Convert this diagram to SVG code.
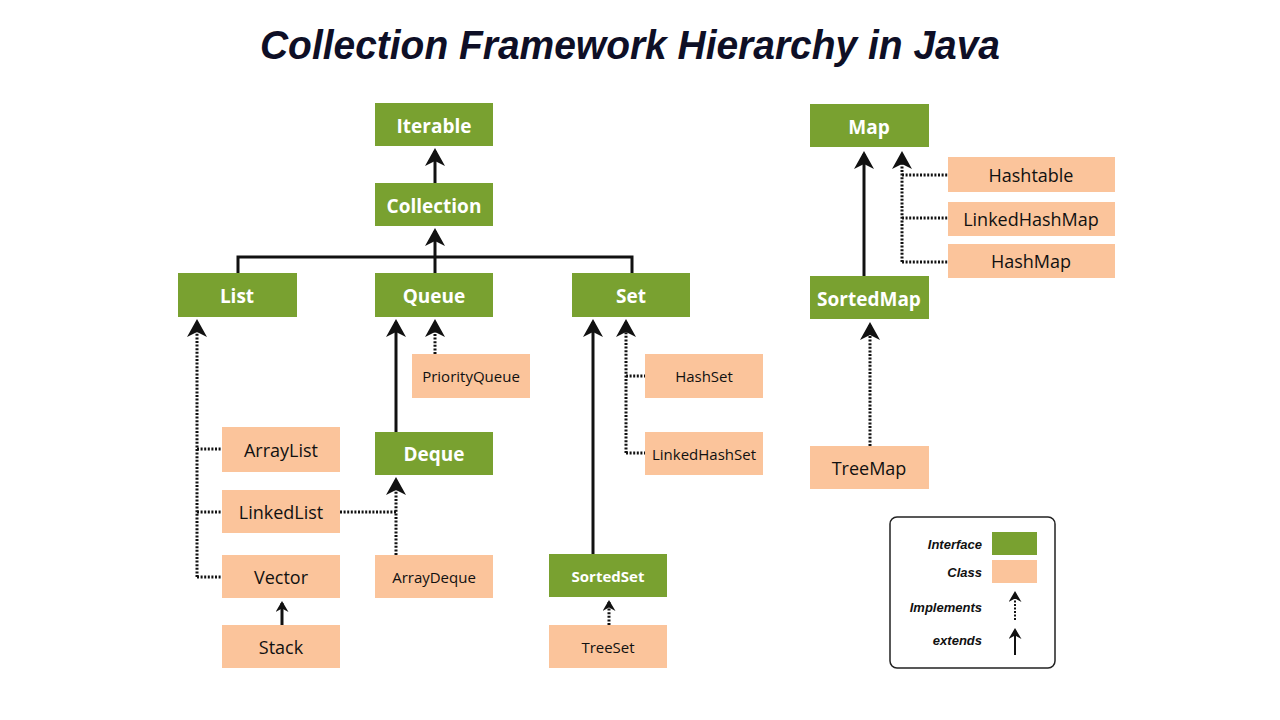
<svg xmlns="http://www.w3.org/2000/svg" width="1280" height="720" viewBox="0 0 1280 720">
<defs>
<style>
.i{fill:#79a130}
.c{fill:#fbc49b}
.ti{font-family:"Open Sans","Liberation Sans",sans-serif;font-weight:bold;font-size:19px;fill:#fff;text-anchor:middle}
.tis{font-size:15px}
.tc{font-family:"Open Sans","Liberation Sans",sans-serif;font-size:18px;fill:#111;text-anchor:middle}
.tcs{font-size:15px}
.s{stroke:#111;stroke-width:3;fill:none}
.d{stroke:#111;stroke-width:3;fill:none;stroke-dasharray:2 1.6}
.lg{font-family:"Liberation Sans",sans-serif;font-weight:bold;font-style:italic;font-size:13px;fill:#111;text-anchor:end}
</style>
<marker id="ah" markerUnits="userSpaceOnUse" markerWidth="18" markerHeight="20" viewBox="0 0 18 20" refX="15" refY="10" orient="auto">
<path d="M0,0 L18,10 L0,20 L5,10 z" fill="#111"/>
</marker>
<marker id="ahs" markerUnits="userSpaceOnUse" markerWidth="11" markerHeight="13" viewBox="0 0 11 13" refX="9" refY="6.5" orient="auto">
<path d="M0,0 L11,6.5 L0,13 L3.5,6.5 z" fill="#111"/>
</marker>
</defs>
<rect width="1280" height="720" fill="#fff"/>
<text x="630" y="59" font-family="'Liberation Sans',sans-serif" font-weight="bold" font-style="italic" font-size="40" fill="#0e0f26" text-anchor="middle" textLength="740" lengthAdjust="spacingAndGlyphs">Collection Framework Hierarchy in Java</text>

<g id="connectors">
<path class="s" d="M435,183 V151" marker-end="url(#ah)"/>
<path class="s" d="M238,273 V257 H632 V273"/>
<path class="s" d="M435,273 V231" marker-end="url(#ah)"/>
<path class="d" d="M197,577 V322" marker-end="url(#ah)"/>
<path class="d" d="M197,449 H222 M197,512 H222 M197,577 H222"/>
<path class="s" d="M282,625 V603" marker-end="url(#ahs)"/>
<path class="s" d="M396,432 V322" marker-end="url(#ah)"/>
<path class="d" d="M435,354 V322" marker-end="url(#ah)"/>
<path class="d" d="M396,555 V480" marker-end="url(#ah)"/>
<path class="d" d="M340,512 H396"/>
<path class="s" d="M593,554 V322" marker-end="url(#ah)"/>
<path class="d" d="M626,453 V322" marker-end="url(#ah)"/>
<path class="d" d="M626,376 H645 M626,453 H645"/>
<path class="d" d="M609,625 V602" marker-end="url(#ahs)"/>
<path class="s" d="M864,276 V154" marker-end="url(#ah)"/>
<path class="d" d="M902,262 V154" marker-end="url(#ah)"/>
<path class="d" d="M902,175 H948 M902,218 H948 M902,262 H948"/>
<path class="d" d="M870,446 V325" marker-end="url(#ah)"/>
</g>

<g id="Iterable"><rect class="i" x="375" y="103" width="118" height="43"/><text class="ti" x="434" y="133">Iterable</text></g>
<g id="Collection"><rect class="i" x="375" y="183" width="118" height="43"/><text class="ti" x="434" y="213">Collection</text></g>
<g id="List"><rect class="i" x="178" y="273" width="119" height="44"/><text class="ti" x="237" y="303">List</text></g>
<g id="Queue"><rect class="i" x="375" y="273" width="118" height="44"/><text class="ti" x="434" y="303">Queue</text></g>
<g id="Set"><rect class="i" x="572" y="273" width="118" height="44"/><text class="ti" x="631" y="303">Set</text></g>
<g id="PriorityQueue"><rect class="c" x="412" y="354" width="118" height="44"/><text class="tc tcs" x="471" y="382">PriorityQueue</text></g>
<g id="HashSet"><rect class="c" x="645" y="354" width="118" height="44"/><text class="tc tcs" x="704" y="382">HashSet</text></g>
<g id="LinkedHashSet"><rect class="c" x="645" y="432" width="118" height="43"/><text class="tc tcs" x="704" y="460">LinkedHashSet</text></g>
<g id="ArrayList"><rect class="c" x="222" y="427" width="118" height="45"/><text class="tc" x="281" y="457">ArrayList</text></g>
<g id="Deque"><rect class="i" x="375" y="432" width="118" height="43"/><text class="ti" x="434" y="461">Deque</text></g>
<g id="LinkedList"><rect class="c" x="222" y="490" width="118" height="43"/><text class="tc" x="281" y="519">LinkedList</text></g>
<g id="Vector"><rect class="c" x="222" y="555" width="118" height="43"/><text class="tc" x="281" y="584">Vector</text></g>
<g id="ArrayDeque"><rect class="c" x="375" y="555" width="118" height="43"/><text class="tc tcs" x="434" y="583">ArrayDeque</text></g>
<g id="SortedSet"><rect class="i" x="549" y="554" width="118" height="43"/><text class="ti tis" x="608" y="582">SortedSet</text></g>
<g id="Stack"><rect class="c" x="222" y="625" width="118" height="43"/><text class="tc" x="281" y="654">Stack</text></g>
<g id="TreeSet"><rect class="c" x="549" y="625" width="118" height="43"/><text class="tc tcs" x="608" y="653">TreeSet</text></g>
<g id="Map"><rect class="i" x="810" y="104" width="119" height="43"/><text class="ti" x="869" y="134">Map</text></g>
<g id="Hashtable"><rect class="c" x="948" y="157" width="167" height="35"/><text class="tc" x="1031" y="182">Hashtable</text></g>
<g id="LinkedHashMap"><rect class="c" x="948" y="202" width="167" height="34"/><text class="tc" x="1031" y="226">LinkedHashMap</text></g>
<g id="HashMap"><rect class="c" x="948" y="244" width="167" height="34"/><text class="tc" x="1031" y="268">HashMap</text></g>
<g id="SortedMap"><rect class="i" x="810" y="276" width="119" height="43"/><text class="ti" x="869" y="306">SortedMap</text></g>
<g id="TreeMap"><rect class="c" x="810" y="446" width="119" height="43"/><text class="tc" x="869" y="475">TreeMap</text></g>

<g id="legend">
<rect x="890" y="517" width="165" height="151" rx="7" fill="#fff" stroke="#222" stroke-width="1.5"/>
<text class="lg" x="982" y="549">Interface</text>
<rect class="i" x="992" y="532" width="45" height="23"/>
<text class="lg" x="982" y="577">Class</text>
<rect class="c" x="992" y="560" width="45" height="23"/>
<text class="lg" x="982" y="612">Implements</text>
<path d="M1015,620 V593" stroke="#111" stroke-width="2" stroke-dasharray="2 1.5" fill="none" marker-end="url(#ahs)"/>
<text class="lg" x="982" y="645">extends</text>
<path d="M1015,655 V630" stroke="#111" stroke-width="2" fill="none" marker-end="url(#ahs)"/>
</g>
</svg>
